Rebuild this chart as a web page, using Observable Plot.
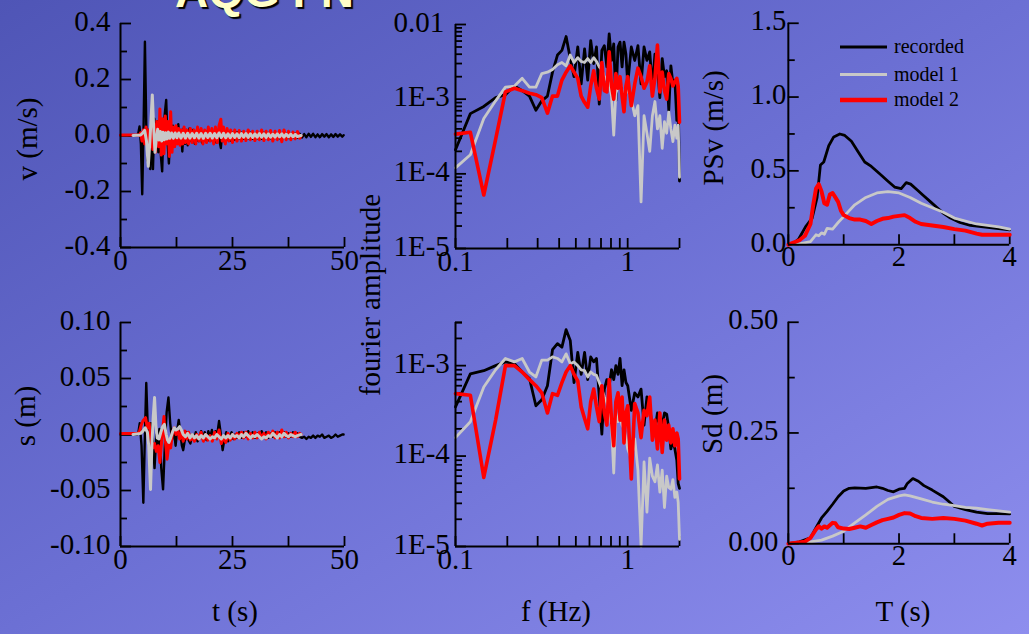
<!DOCTYPE html>
<html><head><meta charset="utf-8">
<script src="https://cdn.jsdelivr.net/npm/d3@7"></script>
<script src="https://cdn.jsdelivr.net/npm/@observablehq/plot@0.6"></script>
<style>
html,body{margin:0;padding:0;background:#6a6ed0;}
#stage{position:relative;width:1029px;height:634px;overflow:hidden;background:linear-gradient(to bottom right,#4f55b6 0%,#6c70d4 50%,#8e8eee 100%);}
.panel{position:absolute;}
.panel svg{overflow:visible;}
#title{position:absolute;left:175px;top:-32px;font:bold 46px "Liberation Sans",sans-serif;color:#ffffc8;text-shadow:2px 2px 1px #000;white-space:nowrap;line-height:46px;}
#overlay{position:absolute;left:0;top:0;pointer-events:none;}
</style></head>
<body><div id="stage"><div id="title">AQG FN</div></div>
<script>
// ---------- DATA ----------
// velocity time series [t (s), v (m/s)]
const velRec = [[0,0],[1,0.001],[2,-0.001],[3,0.001],[3.7,0],[4.0,0.01],[4.25,0.032],[4.55,-0.03],[4.85,-0.21],[5.15,0.03],[5.45,0.335],[5.75,0.04],[6.05,-0.09],[6.35,0.02],[6.65,-0.12],[6.95,0.04],[7.25,-0.12],[7.55,0.06],[7.85,-0.04],[8.15,0.05],[8.45,-0.06],[8.75,0.04],[9.05,-0.08],[9.3,-0.128],[9.6,0.03],[9.9,0.08],[10.2,0.127],[10.5,-0.02],[10.8,-0.1],[11.1,0.01],[11.4,-0.05],[11.7,0.035],[12.0,-0.04],[12.3,0.03],[12.6,-0.03],[12.9,0.04],[13.2,-0.02],[13.5,0.02],[13.8,-0.057],[14.1,0.025],[14.4,-0.03],[14.7,0.02],[15.0,-0.035],[15.4,0.025],[15.8,-0.02],[16.2,0.02],[16.6,-0.03],[17.0,0.015],[17.4,-0.02],[17.8,0.018],[18.2,-0.025],[18.6,0.012],[19.0,-0.02],[19.4,0.015],[19.8,-0.018],[20.2,0.012],[20.6,-0.02],[21.0,0.015],[21.4,-0.025],[21.8,0.02],[22.1,-0.02],[22.4,-0.045],[22.7,0.015],[23.0,-0.02],[23.4,0.012],[23.8,-0.015],[24.2,0.012],[24.6,-0.018],[25.0,0.01],[25.5,-0.015],[26.0,0.012],[26.5,-0.012],[27.0,0.01],[27.5,-0.012],[28.0,0.008],[28.5,-0.01],[29,0.01],[29.5,-0.012],[30,0.008],[30.5,-0.01],[31,0.008],[31.5,-0.012],[32,0.01],[32.5,-0.008],[33,0.009],[33.5,-0.01],[34,0.007],[34.5,-0.009],[35,0.008],[35.5,-0.01],[36,0.007],[36.5,-0.008],[37,0.008],[37.5,-0.009],[38,0.006],[38.5,-0.008],[39,0.007],[39.5,-0.008],[40,0.006],[40.5,-0.007],[41,0.005],[41.5,-0.006],[42,0.006],[42.5,-0.005],[43,0.006],[43.5,-0.006],[44,0.004],[44.5,-0.006],[45,0.005],[45.5,-0.004],[46,0.005],[46.5,-0.006],[47,0.004],[47.5,-0.005],[48,0.005],[48.5,-0.004],[49,0.004],[49.5,-0.004],[49.8,0.001]];
const velM1 = [[2.8,0],[4.5,0.002],[5.0,0.01],[5.4,0.018],[5.8,-0.02],[6.2,-0.11],[6.6,-0.01],[7.1,0.145],[7.4,0.03],[7.7,-0.06],[8.0,-0.012],[8.3,0.022],[8.6,-0.016],[8.9,0.014],[9.2,-0.02],[9.5,0.012],[9.8,-0.015],[10.1,0.01],[10.4,-0.012],[10.7,0.012],[11.0,-0.01],[11.4,0.009],[11.8,-0.01],[12.2,0.009],[12.6,-0.008],[13.0,0.009],[13.5,-0.009],[14,0.008],[14.5,-0.009],[15,0.008],[15.5,-0.009],[16,0.007],[16.5,-0.008],[17,0.008],[17.5,-0.009],[18,0.007],[18.5,-0.01],[19,0.008],[19.5,-0.007],[20,0.008],[20.5,-0.009],[21,0.007],[21.5,-0.008],[22,0.009],[22.5,-0.007],[23,0.008],[23.5,-0.008],[24,0.006],[24.5,-0.008],[25,0.007],[25.5,-0.007],[26,0.006],[26.5,-0.008],[27,0.007],[27.5,-0.006],[28,0.007],[28.5,-0.007],[29,0.006],[29.5,-0.007],[30,0.006],[30.5,-0.006],[31,0.007],[31.5,-0.006],[32,0.006],[32.5,-0.007],[33,0.006],[33.5,-0.006],[34,0.005],[34.5,-0.006],[35,0.006],[35.5,-0.005],[36,0.006],[36.5,-0.006],[37,0.005],[37.5,-0.005],[38,0.005],[38.5,-0.005],[39,0.004],[39.5,-0.004],[40.3,0]];
const velM2 = [[0,0.002],[3.8,0.002],[4.2,0.0],[4.5,0.01],[4.8,-0.02],[5.1,0.02],[5.4,-0.03],[5.7,0.03],[6.0,-0.02],[6.3,0.02],[6.6,-0.04],[6.9,0.03],[7.2,-0.05],[7.5,0.04],[7.8,-0.06],[8.1,0.05],[8.5,-0.04],[8.8,0.095],[9.1,-0.07],[9.4,0.06],[9.7,-0.065],[10.0,0.07],[10.3,-0.03],[10.6,0.05],[10.9,-0.075],[11.2,0.085],[11.5,-0.06],[11.8,0.03],[12.1,-0.04],[12.4,0.035],[12.7,-0.03],[13.0,0.025],[13.3,-0.035],[13.6,0.02],[13.9,-0.03],[14.2,0.03],[14.5,-0.025],[14.8,0.02],[15.2,-0.03],[15.6,0.025],[16.0,-0.025],[16.4,0.02],[16.8,-0.03],[17.2,0.03],[17.6,-0.02],[18.0,0.025],[18.4,-0.03],[18.8,0.02],[19.2,-0.025],[19.6,0.03],[20.0,-0.02],[20.4,0.025],[20.8,-0.03],[21.2,0.03],[21.6,-0.025],[22.0,0.035],[22.4,0.058],[22.7,-0.02],[23.0,0.03],[23.4,-0.03],[23.8,0.025],[24.2,-0.02],[24.6,0.02],[25.0,-0.025],[25.5,0.02],[26.0,-0.02],[26.5,0.018],[27.0,-0.02],[27.5,0.015],[28.0,-0.018],[28.5,0.02],[29.0,-0.015],[29.5,0.015],[30,-0.018],[30.5,0.015],[31,-0.015],[31.5,0.02],[32,-0.018],[32.5,0.015],[33,-0.015],[33.5,0.018],[34,-0.02],[34.5,0.015],[35,-0.015],[35.5,0.018],[36,-0.022],[36.5,0.02],[37,-0.015],[37.5,0.015],[38,-0.015],[38.5,0.012],[39,-0.012],[39.5,0.014],[40.0,-0.01],[40.3,0.0]];

// displacement time series [t (s), s (m)]
const dispRec = [[0,0],[3.7,0],[4.0,0.002],[4.3,0.01],[4.7,-0.01],[5.1,-0.061],[5.45,0.0],[5.75,0.046],[6.05,0.01],[6.4,-0.012],[6.8,0.01],[7.2,-0.005],[7.6,-0.03],[8.0,0.0],[8.3,-0.01],[8.7,0.005],[9.1,-0.03],[9.5,-0.049],[9.9,-0.01],[10.3,0.02],[10.7,0.033],[11.1,0.01],[11.5,-0.005],[11.9,0.005],[12.3,-0.01],[12.7,0.005],[13.0,0.013],[13.4,0.0],[13.7,-0.01],[14.0,-0.014],[14.4,-0.004],[14.8,0.002],[15.2,-0.005],[15.6,-0.008],[16.0,0.0],[16.4,-0.004],[16.8,0.002],[17.2,-0.006],[17.6,-0.002],[18.0,0.003],[18.4,-0.004],[18.8,0.002],[19.2,-0.005],[19.6,0.003],[20.0,-0.003],[20.4,0.004],[20.8,-0.004],[21.2,0.003],[21.6,0.0],[22.0,0.012],[22.4,0.0],[22.8,-0.014],[23.2,-0.004],[23.6,0.002],[24.0,-0.006],[24.4,-0.002],[24.8,0.002],[25.2,-0.004],[25.6,0.0],[26,-0.003],[26.5,0.002],[27,-0.003],[27.5,0.002],[28,-0.002],[28.5,0.003],[29,-0.002],[29.5,0.002],[30,-0.003],[30.5,0.001],[31,-0.002],[31.5,0.003],[32,-0.002],[32.5,0.002],[33,-0.003],[33.5,0.001],[34,-0.002],[34.5,0.002],[35,-0.001],[35.5,0.002],[36,-0.002],[36.5,0.002],[37,-0.002],[37.5,0.001],[38,-0.002],[38.5,0.002],[39,-0.001],[39.5,0.001],[40,-0.002],[40.5,-0.003],[41,-0.002],[41.5,-0.004],[42,-0.002],[42.5,-0.003],[43,-0.001],[43.5,-0.003],[44,-0.001],[44.5,-0.002],[45,0.0],[45.5,-0.003],[46,-0.002],[46.5,-0.001],[47,-0.003],[47.5,-0.002],[48,0.0],[48.5,-0.002],[49,-0.001],[49.5,0.0],[49.8,0.0]];
const dispM1 = [[2.8,0],[4.5,0.001],[5.0,0.003],[5.5,0.006],[6.0,0.002],[6.3,-0.01],[6.7,-0.049],[7.0,-0.01],[7.3,0.015],[7.6,0.033],[7.9,0.008],[8.2,-0.003],[8.6,-0.004],[9.0,0.002],[9.4,0.007],[9.8,0.009],[10.2,0.0],[10.5,-0.005],[10.8,-0.007],[11.2,-0.003],[11.6,0.002],[12.0,0.006],[12.4,0.004],[12.8,0.005],[13.2,0.007],[13.6,0.004],[14.0,0.0],[14.5,-0.002],[15.0,0.001],[15.5,-0.003],[16,0.0],[16.5,-0.003],[17,-0.001],[17.5,-0.004],[18,-0.001],[18.5,-0.003],[19,0.0],[19.5,-0.002],[20,-0.004],[20.5,-0.002],[21,-0.003],[21.5,0.0],[22,-0.002],[22.5,-0.004],[23,-0.001],[23.5,-0.003],[24,-0.001],[24.5,-0.003],[25,0.0],[25.5,-0.002],[26,-0.001],[26.5,-0.003],[27,0.0],[27.5,-0.002],[28,0.001],[28.5,-0.001],[29,-0.003],[29.5,-0.001],[30,-0.002],[30.5,0.0],[31,-0.002],[31.5,-0.004],[32,-0.002],[32.5,-0.003],[33,-0.001],[33.5,-0.002],[34,0.001],[34.5,-0.001],[35,-0.003],[35.5,0.0],[36,-0.002],[36.5,0.001],[37,-0.001],[37.5,-0.002],[38,0.0],[38.5,-0.001],[39,-0.002],[39.5,-0.001],[40.3,0.0]];
const dispM2 = [[0,0.001],[3.8,0.001],[4.2,0.002],[4.6,0.008],[5.0,0.012],[5.6,0.015],[6.0,0.006],[6.4,0.01],[6.8,-0.005],[7.2,-0.012],[7.6,-0.008],[8.0,-0.015],[8.4,-0.01],[8.8,-0.025],[9.2,-0.005],[9.7,0.016],[10.0,-0.005],[10.4,-0.022],[10.8,-0.008],[11.2,-0.012],[11.6,0.002],[12.0,0.006],[12.4,0.0],[12.8,0.004],[13.2,-0.004],[13.6,0.002],[14.0,-0.006],[14.4,0.003],[14.8,-0.004],[15.2,0.002],[15.6,-0.005],[16,-0.002],[16.5,-0.006],[17,0.0],[17.5,-0.004],[18,0.002],[18.5,-0.006],[19,0.0],[19.5,-0.005],[20,-0.001],[20.5,-0.006],[21,0.002],[21.5,-0.004],[22,0.004],[22.5,-0.008],[23,-0.002],[23.5,-0.007],[24,0.001],[24.5,-0.005],[25,0.0],[25.5,-0.004],[26,0.001],[26.5,-0.003],[27,0.002],[27.5,-0.003],[28,0.002],[28.5,-0.004],[29,0.001],[29.5,-0.003],[30,0.002],[30.5,-0.003],[31,0.002],[31.5,-0.003],[32,0.001],[32.5,-0.004],[33,0.002],[33.5,-0.002],[34,0.003],[34.5,-0.003],[35,0.002],[35.5,-0.003],[36,0.004],[36.5,-0.002],[37,0.002],[37.5,-0.003],[38,0.001],[38.5,-0.002],[39,0.002],[39.5,-0.002],[40.0,0.001],[40.3,0.0]];

// Fourier amplitude spectra (shared frequency grid, Hz)
const freq = [0.100,0.122,0.146,0.171,0.195,0.220,0.244,0.269,0.293,0.317,0.342,0.366,0.391,0.415,0.439,0.464,0.488,0.513,0.537,0.562,0.586,0.610,0.635,0.659,0.684,0.708,0.732,0.757,0.781,0.806,0.830,0.854,0.879,0.903,0.928,0.952,0.977,1.001,1.050,1.099,1.147,1.196,1.245,1.294,1.343,1.392,1.440,1.489,1.538,1.587,1.636,1.685,1.733,1.782,1.831,1.880,1.929,1.965,2.000];
const fasVelRec = [2.1e-4,6.4e-4,8.0e-4,1.05e-3,1.15e-3,1.5e-3,1.3e-3,1.1e-3,7.1e-4,9.5e-4,1.1e-3,2.3e-3,3.9e-3,4.5e-3,6.9e-3,3.5e-3,2.0e-3,5.0e-3,1.6e-3,4.7e-3,1.8e-3,6.1e-3,3.0e-3,5.0e-3,8.6e-4,4.5e-3,5.2e-3,2.7e-3,7.5e-3,3.3e-3,5.5e-3,9.6e-4,5.0e-3,5.8e-3,2.7e-3,5.8e-3,4.0e-3,1.6e-3,5.0e-3,3.3e-3,5.2e-3,1.6e-3,5.0e-3,3.3e-3,4.3e-3,1.45e-3,4.0e-3,2.7e-3,1.05e-3,3.5e-3,2.0e-3,2.4e-3,7.1e-4,2.8e-3,1.6e-3,1.8e-3,5.2e-4,1.05e-3,8e-5];
const fasVelM1 = [1.2e-4,1.8e-4,5.5e-4,9.5e-4,1.45e-3,1.5e-3,1.9e-3,1.45e-3,1.45e-3,2.2e-3,2.3e-3,2.5e-3,2.9e-3,3.1e-3,2.8e-3,3.9e-3,3.1e-3,3.6e-3,3.2e-3,3.1e-3,3.5e-3,3.1e-3,3.6e-3,3.2e-3,2.7e-3,2.5e-3,2.0e-3,1.8e-3,1.6e-3,1.1e-3,3.3e-4,1.2e-3,1.5e-3,1.7e-3,1.3e-3,9.3e-4,1.2e-3,1.4e-3,1.0e-3,6e-4,8.2e-4,4.2e-5,6e-4,3.5e-4,2e-4,6e-4,9.3e-4,4e-4,6e-4,2.2e-4,5e-4,3.5e-4,6.7e-4,4e-4,2.7e-4,4.5e-4,3e-4,4.5e-4,9e-5];
const fasVelM2 = [3.4e-4,3.6e-4,5.2e-5,2.9e-4,1.25e-3,1.4e-3,1.3e-3,1.2e-3,1.15e-3,1.05e-3,6.5e-4,1.1e-3,1.1e-3,1.8e-3,2.3e-3,2.8e-3,2.3e-3,1.9e-3,1.1e-3,9e-4,7.8e-4,1.5e-3,2.4e-3,1.4e-3,1e-3,3.1e-3,1.3e-3,1.25e-3,4.3e-3,1.5e-3,1.0e-3,2.2e-3,1.4e-3,2e-3,1.1e-3,6.8e-4,1.5e-3,2e-3,8.2e-4,1.6e-3,2.6e-3,2e-3,1.4e-3,1.7e-3,2.8e-3,1.1e-3,1.9e-3,5.3e-3,1.25e-3,2.3e-3,1.3e-3,1e-3,2.2e-3,1.9e-3,1.5e-3,1.7e-3,1.9e-3,1.5e-3,4.9e-4];
const fasDispRec = [3.5e-4,8.1e-4,8.8e-4,1.0e-3,1.1e-3,1.05e-3,8.5e-4,7.2e-4,3.6e-4,4.2e-4,6e-4,1.5e-3,1.75e-3,1.6e-3,2.5e-3,1.9e-3,6.5e-4,1.4e-3,8e-4,1.4e-3,7e-4,1.25e-3,1.1e-3,1.2e-3,4.5e-4,1.75e-4,5.5e-4,7e-4,6e-4,9e-4,7e-4,1.0e-3,8e-4,1.2e-3,6e-4,9e-4,6.5e-4,6e-4,3.2e-4,5e-4,4.5e-4,5.5e-4,2.2e-4,4.5e-4,3.5e-4,2e-4,1.9e-4,3e-4,2.2e-4,2.2e-4,3e-4,2.9e-4,2e-4,1.2e-4,1.5e-4,1.2e-4,9e-5,5e-5,4.4e-5];
const fasDispM1 = [1.6e-4,2.4e-4,5.8e-4,9e-4,1.2e-3,1.1e-3,1.2e-3,8.5e-4,7.5e-4,1.15e-3,1.15e-3,1.25e-3,1.2e-3,1.1e-3,1.35e-3,1.05e-3,1.1e-3,1e-3,9e-4,8.8e-4,7.5e-4,8.5e-4,8e-4,7.8e-4,6.5e-4,5.5e-4,4.5e-4,3.9e-4,3e-4,2.2e-4,6.5e-5,3e-4,2.4e-4,2.8e-4,2.2e-4,2e-4,1.6e-4,1.2e-4,9.3e-5,1.55e-4,7e-5,1e-5,8.6e-5,2.4e-5,9.5e-5,6e-5,5.2e-5,8e-5,4e-5,7e-5,2.7e-5,6e-5,4.5e-5,4.3e-5,5.5e-5,3.5e-5,4e-5,3.1e-5,1.2e-5];
const fasDispM2 = [4.9e-4,4.7e-4,5.8e-5,2.5e-4,1e-3,1e-3,8.5e-4,7e-4,6e-4,5e-4,3e-4,4.9e-4,4.7e-4,6.5e-4,8.5e-4,1e-3,8e-4,6.8e-4,3.5e-4,2.6e-4,2e-4,4e-4,5.5e-4,3.5e-4,2.4e-4,6e-4,3e-4,2.2e-4,7e-4,2.5e-4,1.3e-4,4e-4,5e-4,2.5e-4,4.5e-4,1.4e-4,3e-4,3.6e-4,5.6e-5,3.8e-4,3e-4,1.6e-4,3.2e-4,2.8e-4,4.5e-4,1.5e-4,2.5e-4,1.2e-4,3e-4,1.1e-4,2.5e-4,1.5e-4,2.2e-4,1.4e-4,2e-4,1.3e-4,1.8e-4,1.55e-4,5.6e-5];

// response spectra [T (s), value]
const psvRec = [[0,0],[0.1,0.01],[0.19,0.04],[0.31,0.12],[0.43,0.18],[0.52,0.32],[0.58,0.54],[0.64,0.56],[0.73,0.67],[0.82,0.73],[0.93,0.75],[1.02,0.74],[1.14,0.70],[1.26,0.63],[1.38,0.56],[1.5,0.53],[1.65,0.48],[1.8,0.43],[1.92,0.39],[2.04,0.38],[2.13,0.42],[2.21,0.41],[2.33,0.37],[2.45,0.33],[2.57,0.29],[2.69,0.25],[2.81,0.21],[2.93,0.18],[3.1,0.15],[3.29,0.13],[3.52,0.12],[3.76,0.11],[4.0,0.10]];
const psvM1 = [[0,0],[0.2,0.005],[0.4,0.02],[0.5,0.067],[0.55,0.06],[0.6,0.08],[0.65,0.07],[0.7,0.11],[0.8,0.105],[0.9,0.15],[1.0,0.19],[1.2,0.27],[1.4,0.32],[1.6,0.35],[1.8,0.36],[2.0,0.35],[2.2,0.32],[2.4,0.28],[2.6,0.25],[2.8,0.22],[3.0,0.18],[3.2,0.16],[3.4,0.14],[3.6,0.13],[3.8,0.12],[4.0,0.105]];
const psvM2 = [[0,0],[0.2,0.03],[0.3,0.06],[0.4,0.14],[0.45,0.27],[0.5,0.38],[0.55,0.41],[0.6,0.36],[0.65,0.28],[0.7,0.27],[0.75,0.34],[0.8,0.35],[0.85,0.32],[0.9,0.29],[0.95,0.23],[1.0,0.2],[1.1,0.18],[1.2,0.17],[1.3,0.17],[1.4,0.16],[1.5,0.14],[1.6,0.16],[1.7,0.175],[1.8,0.18],[1.9,0.19],[2.0,0.195],[2.1,0.2],[2.2,0.18],[2.3,0.155],[2.4,0.14],[2.6,0.13],[2.8,0.12],[3.0,0.105],[3.2,0.095],[3.4,0.075],[3.5,0.067],[3.7,0.067],[4.0,0.067]];
const sdRec = [[0,0],[0.2,0.004],[0.4,0.013],[0.5,0.036],[0.6,0.058],[0.7,0.073],[0.8,0.089],[0.9,0.106],[1.0,0.119],[1.1,0.125],[1.2,0.126],[1.4,0.125],[1.6,0.128],[1.7,0.125],[1.8,0.12],[1.9,0.117],[2.0,0.123],[2.1,0.125],[2.15,0.136],[2.25,0.147],[2.35,0.141],[2.45,0.131],[2.6,0.121],[2.8,0.106],[2.9,0.095],[3.0,0.084],[3.2,0.077],[3.4,0.071],[3.6,0.068],[3.8,0.068],[4.0,0.067]];
const sdM1 = [[0,0],[0.4,0.004],[0.6,0.008],[0.8,0.017],[1.0,0.028],[1.2,0.047],[1.4,0.065],[1.6,0.084],[1.8,0.1],[2.0,0.108],[2.1,0.11],[2.2,0.108],[2.4,0.101],[2.6,0.094],[2.8,0.089],[3.0,0.086],[3.2,0.082],[3.4,0.08],[3.6,0.077],[3.8,0.074],[4.0,0.071]];
const sdM2 = [[0,0],[0.3,0.0045],[0.4,0.013],[0.5,0.032],[0.55,0.039],[0.6,0.034],[0.65,0.039],[0.7,0.036],[0.8,0.047],[0.85,0.046],[0.9,0.037],[1.0,0.034],[1.1,0.033],[1.2,0.036],[1.3,0.039],[1.4,0.036],[1.5,0.042],[1.6,0.048],[1.7,0.053],[1.8,0.056],[1.9,0.059],[2.0,0.065],[2.1,0.069],[2.2,0.068],[2.3,0.062],[2.4,0.058],[2.6,0.056],[2.8,0.058],[3.0,0.056],[3.2,0.052],[3.4,0.045],[3.5,0.041],[3.6,0.045],[3.8,0.047],[4.0,0.047]];

// tick values
const timeTicks = [0, 25, 50], timeMinor = [12.5, 37.5];
const velTicks = [-0.4, -0.2, 0, 0.2, 0.4], velMinor = [-0.3, -0.1, 0.1, 0.3];
const dispTicks = [-0.1, -0.05, 0, 0.05, 0.1], dispMinor = [-0.075, -0.025, 0.025, 0.075];
const freqTicks = [0.1, 1], freqMinor = [0.2,0.3,0.4,0.5,0.6,0.7,0.8,0.9,2];
const fasTopTicks = [1e-5, 1e-4, 1e-3, 1e-2];
const fasBotTicks = [1e-5, 1e-4, 1e-3];
const fasTopLabels = ["1E-5", "1E-4", "1E-3", "0.01"];
const fasBotLabels = ["1E-5", "1E-4", "1E-3"];
const perTicks = [0, 2, 4], perMinor = [1, 3];
const psvTicks = [0, 0.5, 1, 1.5], psvMinor = [0.25, 0.75, 1.25];
const sdTicks = [0, 0.25, 0.5], sdMinor = [0.125, 0.375];
const seriesNames = ["recorded", "model 1", "model 2"];
const seriesColors = ["#000000", "#c8c8c8", "#ff0000"];

// log minor ticks within decades
function logMinor(lo, hi) {
  const out = [];
  for (let e = Math.floor(Math.log10(lo)); e < Math.ceil(Math.log10(hi)); e++)
    for (let m = 2; m <= 9; m++) { const v = m * 10 ** e; if (v > lo * 1.0001 && v < hi * 0.9999) out.push(v); }
  return out;
}

// ---------- PANELS ----------
const FONT = "Liberation Serif";
const FS = 29;
const ML = 100, MR = 20, MT = 20, MB = 40, FW = 224, FH = 224;

function panel(cfg) {
  const tick = {stroke: "#000", strokeWidth: 1.8};
  const lab = {fontSize: FS, fontFamily: FONT, fill: "#000"};
  const marks = [
    Plot.tickY(cfg.yMinor, {y: d => d, insetRight: FW - 7, ...tick}),
    Plot.tickY(cfg.yTicks, {y: d => d, insetRight: FW - 11, ...tick}),
    Plot.tickX(cfg.xMinor, {x: d => d, insetTop: FH - 10, ...tick}),
    Plot.tickX(cfg.xTicks, {x: d => d, insetTop: FH - 10, ...tick}),
    ...cfg.lines.map(([data, xa, ya, color, w]) =>
      Plot.line(data, {x: xa, y: ya, stroke: color, strokeWidth: w, strokeLinejoin: "round"})),
    Plot.ruleX([cfg.x.domain[0]], {stroke: "#000", strokeWidth: 2}),
    Plot.ruleY([cfg.y.domain[0]], {stroke: "#000", strokeWidth: 2}),
    Plot.text(cfg.yTicks, {y: d => d, text: cfg.yFmt, frameAnchor: "left", dx: cfg.yDx, dy: -2, textAnchor: cfg.yAnchor || "end", ...lab}),
    Plot.text(cfg.xTicks, {x: d => d, text: cfg.xFmt, frameAnchor: "bottom", dy: 22, ...lab})
  ];
  const svg = Plot.plot({
    width: ML + FW + MR, height: MT + FH + MB,
    marginLeft: ML, marginRight: MR, marginTop: MT, marginBottom: MB,
    x: {...cfg.x, axis: null}, y: {...cfg.y, axis: null},
    style: {background: "transparent", fontFamily: FONT, color: "#000"},
    marks
  });
  const div = document.createElement("div");
  div.className = "panel";
  div.style.left = (cfg.left - ML) + "px";
  div.style.top = (cfg.top - MT) + "px";
  div.appendChild(svg);
  document.getElementById("stage").appendChild(div);
}

const P = d => d[0], V = d => d[1];
const fx = d => d;
const idx = arr => (d, i) => arr[i];
const f1 = d => d.toFixed(1), f2 = d => d.toFixed(2);

// velocity
panel({left: 120, top: 23, x: {domain: [0, 50]}, y: {domain: [-0.4, 0.4]},
  xTicks: timeTicks, xMinor: timeMinor, yTicks: velTicks, yMinor: velMinor,
  xFmt: d => String(d), yFmt: f1, yDx: -10,
  lines: [[velRec, P, V, seriesColors[0], 2.4], [velM2, P, V, seriesColors[2], 3], [velM1, P, V, seriesColors[1], 3]]});
// displacement
panel({left: 120, top: 322, x: {domain: [0, 50]}, y: {domain: [-0.1, 0.1]},
  xTicks: timeTicks, xMinor: timeMinor, yTicks: dispTicks, yMinor: dispMinor,
  xFmt: d => String(d), yFmt: f2, yDx: -10,
  lines: [[dispRec, P, V, seriesColors[0], 2.4], [dispM2, P, V, seriesColors[2], 3], [dispM1, P, V, seriesColors[1], 3]]});
// fourier of velocity
panel({left: 455, top: 24, x: {type: "log", domain: [0.1, 2]}, y: {type: "log", domain: [1e-5, 1e-2]},
  xTicks: freqTicks, xMinor: freqMinor, yTicks: fasTopTicks, yMinor: logMinor(1e-5, 1e-2),
  xFmt: d => String(d), yFmt: (d, i) => fasTopLabels[i], yDx: -62, yAnchor: "start",
  lines: [[freq, fx, idx(fasVelRec), seriesColors[0], 2.8], [freq, fx, idx(fasVelM1), seriesColors[1], 2.8], [freq, fx, idx(fasVelM2), seriesColors[2], 3.6]]});
// fourier of displacement
panel({left: 455, top: 322, x: {type: "log", domain: [0.1, 2]}, y: {type: "log", domain: [1e-5, 3e-3]},
  xTicks: freqTicks, xMinor: freqMinor, yTicks: fasBotTicks, yMinor: logMinor(1e-5, 3.01e-3).concat([3e-3]),
  xFmt: d => String(d), yFmt: (d, i) => fasBotLabels[i], yDx: -62, yAnchor: "start",
  lines: [[freq, fx, idx(fasDispRec), seriesColors[0], 2.8], [freq, fx, idx(fasDispM1), seriesColors[1], 2.8], [freq, fx, idx(fasDispM2), seriesColors[2], 3.6]]});
// PSv
panel({left: 789, top: 23, x: {domain: [0, 4]}, y: {domain: [0, 1.5]},
  xTicks: perTicks, xMinor: perMinor, yTicks: psvTicks, yMinor: psvMinor,
  xFmt: d => String(d), yFmt: f1, yDx: -2,
  lines: [[psvRec, P, V, seriesColors[0], 2.8], [psvM1, P, V, seriesColors[1], 2.8], [psvM2, P, V, seriesColors[2], 4]]});
// Sd
panel({left: 789, top: 322, x: {domain: [0, 4]}, y: {domain: [0, 0.5]},
  xTicks: perTicks, xMinor: perMinor, yTicks: sdTicks, yMinor: sdMinor,
  xFmt: d => String(d), yFmt: f2, yDx: -10,
  lines: [[sdRec, P, V, seriesColors[0], 2.8], [sdM1, P, V, seriesColors[1], 2.8], [sdM2, P, V, seriesColors[2], 4]]});

// ---------- AXIS TITLES & LEGEND ----------
const NS = "http://www.w3.org/2000/svg";
const ov = document.createElementNS(NS, "svg");
ov.setAttribute("id", "overlay"); ov.setAttribute("width", 1029); ov.setAttribute("height", 634);
ov.setAttribute("font-family", FONT); ov.setAttribute("font-size", FS);
const titles = [
  ["v (m/s)", 37, 139, true], ["s (m)", 35, 416, true], ["fourier amplitude", 380, 295, true],
  ["PSv (m/s)", 723, 128, true], ["Sd (m)", 722, 414, true],
  ["t (s)", 235, 621, false], ["f (Hz)", 556, 621, false], ["T (s)", 903, 621, false]
];
for (const [s, x, y, rot] of titles) {
  const t = document.createElementNS(NS, "text");
  t.setAttribute("transform", `translate(${x},${y})` + (rot ? " rotate(-90)" : ""));
  t.setAttribute("text-anchor", "middle");
  t.textContent = s;
  ov.appendChild(t);
}
const legW = [3, 3, 4.5];
seriesNames.forEach((name, i) => {
  const y = [47, 74.5, 100][i];
  const l = document.createElementNS(NS, "line");
  l.setAttribute("x1", 840); l.setAttribute("x2", 887); l.setAttribute("y1", y); l.setAttribute("y2", y);
  l.setAttribute("stroke", seriesColors[i]); l.setAttribute("stroke-width", legW[i]);
  ov.appendChild(l);
  const t = document.createElementNS(NS, "text");
  t.setAttribute("x", 894); t.setAttribute("y", y + 6); t.setAttribute("font-size", 20);
  t.textContent = name;
  ov.appendChild(t);
});
document.getElementById("stage").appendChild(ov);
</script></body></html>
